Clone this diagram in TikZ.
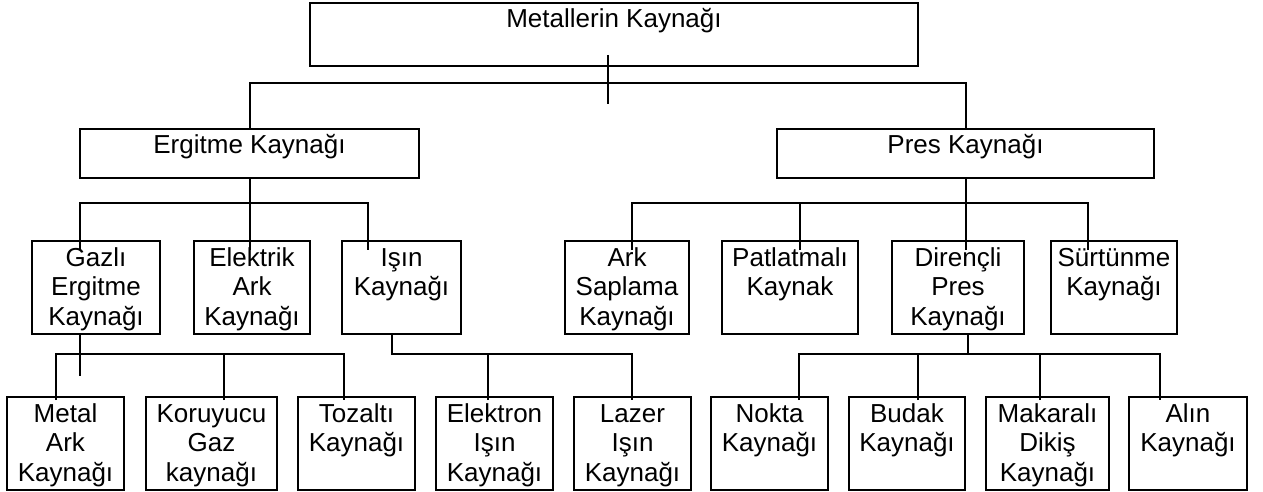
\documentclass[tikz,border=0pt]{standalone}
\usepackage{fontspec}
\setmainfont{Liberation Sans}
\usetikzlibrary{calc}
\newcommand{\boxtext}[3]{\parbox[c][#2pt][t]{#1pt}{\centering\rule{0pt}{25pt}#3}}
\tikzset{
  box/.style={draw, line width=2pt, inner sep=0pt, outer sep=0pt, rectangle},
  conn/.style={line width=2pt}
}
\begin{document}
\begin{tikzpicture}[x=1pt,y=-1pt,font=\fontsize{26}{29.5}\selectfont]
\useasboundingbox (0,0) rectangle (1263,492);
% level 0
\node[box] (top) at (614,34.5) {\boxtext{608}{63}{Metallerin Kaynağı}};
% level 1
\node[box] (ergitme) at (249.5,153.5) {\boxtext{339}{49}{Ergitme Kaynağı}};
\node[box] (pres) at (965.5,153.5) {\boxtext{377}{49}{Pres Kaynağı}};
% level 2
\node[box] (gazli) at (96,287.5) {\boxtext{128}{93}{Gazlı\\Ergitme\\Kaynağı}};
\node[box] (elektrik) at (252,287.5) {\boxtext{116}{93}{Elektrik\\Ark\\Kaynağı}};
\node[box] (isin) at (401.5,287.5) {\boxtext{119}{93}{Işın\\Kaynağı}};
\node[box] (ark) at (627,287.5) {\boxtext{124}{93}{Ark\\Saplama\\Kaynağı}};
\node[box] (patlatma) at (790,287.5) {\boxtext{136}{93}{Patlatmalı\\Kaynak}};
\node[box] (direncli) at (958,287.5) {\boxtext{132}{93}{Dirençli\\Pres\\Kaynağı}};
\node[box] (surtunme) at (1114,287.5) {\boxtext{126}{93}{Sürtünme\\Kaynağı}};
% level 3
\node[box] (metal) at (65.5,443.5) {\boxtext{117}{93}{Metal\\Ark\\Kaynağı}};
\node[box] (koruyucu) at (211.5,443.5) {\boxtext{131}{93}{Koruyucu\\Gaz\\kaynağı}};
\node[box] (tozalti) at (356.5,443.5) {\boxtext{117}{93}{Tozaltı\\Kaynağı}};
\node[box] (elektron) at (494.5,443.5) {\boxtext{117}{93}{Elektron\\Işın\\Kaynağı}};
\node[box] (lazer) at (632.5,443.5) {\boxtext{117}{93}{Lazer\\Işın\\Kaynağı}};
\node[box] (nokta) at (769.5,443.5) {\boxtext{117}{93}{Nokta\\Kaynağı}};
\node[box] (budak) at (907,443.5) {\boxtext{116}{93}{Budak\\Kaynağı}};
\node[box] (makarali) at (1047.5,443.5) {\boxtext{123}{93}{Makaralı\\Dikiş\\Kaynağı}};
\node[box] (alin) at (1188,443.5) {\boxtext{118}{93}{Alın\\Kaynağı}};
% level 0 -> 1
\coordinate (bus0) at (608,83);
\draw[conn] (ergitme.north) |- (bus0) -| (pres.north);
\draw[conn] ([xshift=-6pt,yshift=11pt]top.south) -- ([xshift=-6pt,yshift=-38pt]top.south);
% Ergitme -> level 2
\draw[conn] (ergitme.south) -- ($(ergitme.south |- elektrik.north)+(0,-9pt)$);
\draw[conn] ([xshift=-16pt,yshift=-9pt]gazli.north) -- ++(0,47pt) -| ([xshift=-33.5pt,yshift=-9pt]isin.north);
% Pres -> level 2
\draw[conn] (pres.south) -- ($(pres.south |- direncli.north)+(0,-9pt)$);
\draw[conn] ([xshift=5pt,yshift=-9pt]ark.north) -- ++(0,47pt) -| ([xshift=-26pt,yshift=-9pt]surtunme.north);
\draw[conn] ([xshift=10pt,yshift=-9pt]patlatma.north) -- ++(0,47pt);
% Gazli -> level 3
\draw[conn] ([xshift=-16pt]gazli.south) -- ++(0,-42pt);
\draw[conn] ([xshift=-9.5pt,yshift=-3pt]metal.north) -- ++(0,46pt) -| ([xshift=-12.5pt,yshift=-3pt]tozalti.north);
\draw[conn] ([xshift=12.5pt,yshift=-3pt]koruyucu.north) -- ++(0,46pt);
% Isin -> level 3
\draw[conn] ([xshift=-9.5pt]isin.south) -- ++(0,-20pt) -| ([xshift=-0.5pt,yshift=-3pt]lazer.north);
\draw[conn] ([xshift=-6.5pt,yshift=-3pt]elektron.north) -- ++(0,46pt);
% Direncli -> level 3
\draw[conn] ([xshift=10pt]direncli.south) -- ++(0,-20pt);
\draw[conn] ([xshift=29.5pt,yshift=-3pt]nokta.north) -- ++(0,46pt) -| ([xshift=-28pt,yshift=-3pt]alin.north);
\draw[conn] ([xshift=11pt,yshift=-3pt]budak.north) -- ++(0,46pt);
\draw[conn] ([xshift=-7.5pt,yshift=-3pt]makarali.north) -- ++(0,46pt);
\end{tikzpicture}
\end{document}
